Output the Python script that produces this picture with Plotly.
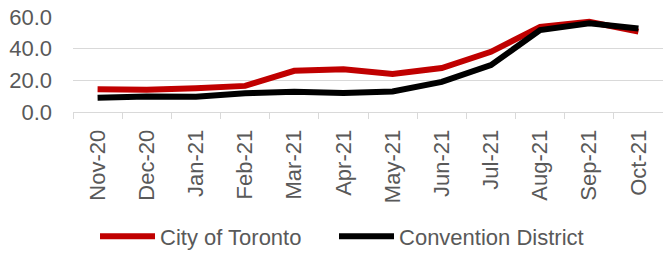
import plotly.graph_objects as go

months = ["Nov-20", "Dec-20", "Jan-21", "Feb-21", "Mar-21", "Apr-21",
          "May-21", "Jun-21", "Jul-21", "Aug-21", "Sep-21", "Oct-21"]
toronto = [14.3, 14.0, 15.0, 16.5, 26.0, 27.0, 24.0, 27.8, 38.0, 53.8, 57.0, 50.8]
convention = [9.0, 9.8, 9.6, 11.8, 12.8, 12.0, 13.0, 19.0, 29.6, 51.7, 56.0, 52.8]
y_ticks = [0, 20, 40, 60]
y_tick_labels = ["0.0", "20.0", "40.0", "60.0"]

FONT = "Liberation Sans"
GRAY_TXT = "#595959"
GRID = "#d9d9d9"

fig = go.Figure()
fig.add_trace(go.Scatter(x=months, y=toronto, mode="lines", name="City of Toronto",
                         line=dict(color="#C00000", width=6), legendwidth=169))
fig.add_trace(go.Scatter(x=months, y=convention, mode="lines", name="Convention District",
                         line=dict(color="#000000", width=6), legendwidth=195))

fig.update_layout(
    width=663, height=254,
    margin=dict(l=73, r=0, t=17, b=142, autoexpand=False),
    plot_bgcolor="white", paper_bgcolor="white",
    font=dict(family=FONT, color=GRAY_TXT),
    showlegend=True,
    legend=dict(orientation="h", x=0.0373, xanchor="left", y=-1.53, yanchor="bottom",
                font=dict(family=FONT, size=22, color=GRAY_TXT),
                itemwidth=55, bgcolor="rgba(0,0,0,0)"),
)
fig.update_xaxes(
    type="category", range=[-0.5, len(months) - 0.5], automargin=False,
    tickangle=-90,
    showline=True, linecolor=GRID, linewidth=1,
    ticks="outside", tickson="boundaries", ticklen=6, tickcolor=GRID,
    showgrid=False, tickfont=dict(family=FONT, size=22, color=GRAY_TXT),
    ticklabelstandoff=8,
)
fig.update_yaxes(
    range=[0, 60], tickvals=y_ticks, ticktext=y_tick_labels, automargin=False,
    showgrid=True, gridcolor=GRID, gridwidth=1, zeroline=False,
    showline=False, ticks="", tickfont=dict(family=FONT, size=22, color=GRAY_TXT),
    ticklabelstandoff=20,
)

fig.write_html(
    "out.html",
    config={"displayModeBar": False},
    post_script="document.body.style.margin='0px';document.body.style.overflow='hidden';",
)
